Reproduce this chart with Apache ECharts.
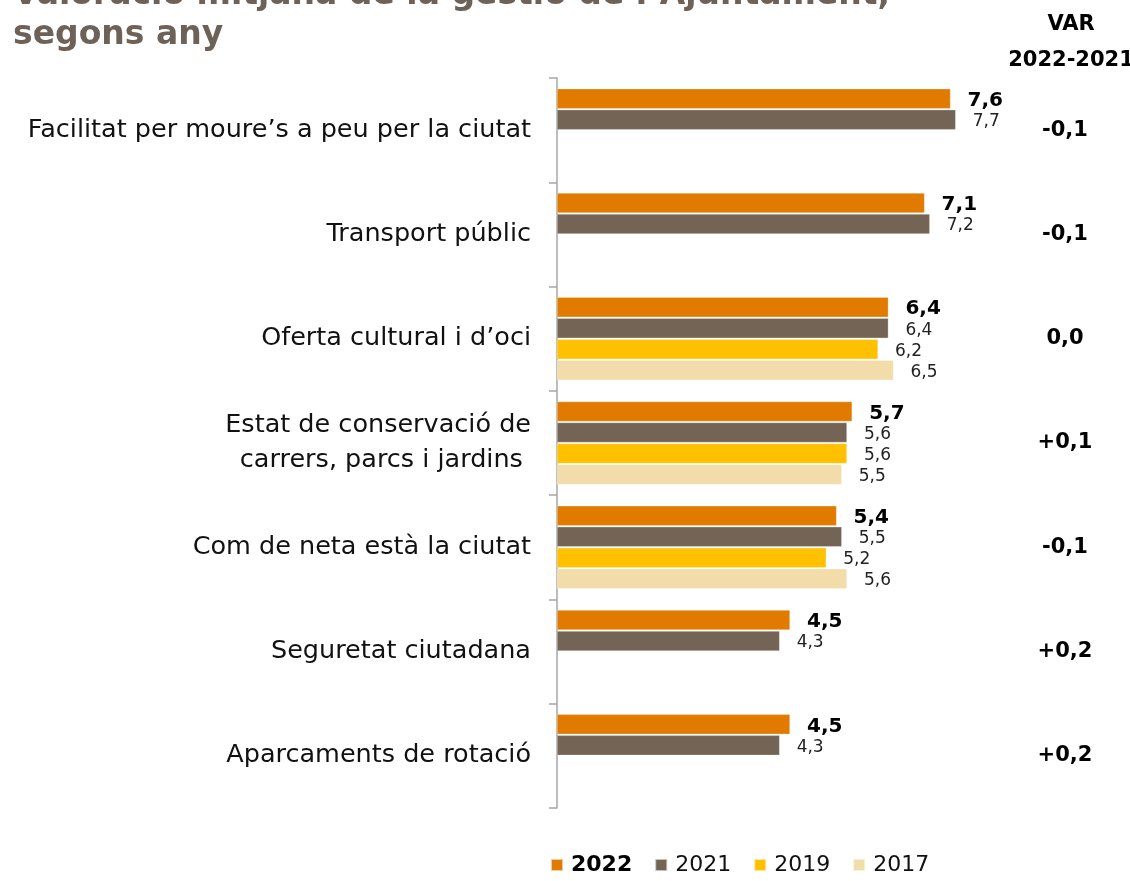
<!DOCTYPE html>
<html>
<head>
<meta charset="utf-8">
<script src="https://cdn.jsdelivr.net/npm/echarts@6/dist/echarts.min.js"></script>
<style>
  html, body { margin: 0; padding: 0; background: #fff; }
  #chart { width: 1130px; height: 881px; }
</style>
</head>
<body>
<div id="chart"></div>
<script>
// Valoració mitjana de la gestió municipal per àmbit i any
const categories = [
  'Facilitat per moure’s a peu per la ciutat',
  'Transport públic',
  'Oferta cultural i d’oci',
  'Estat de conservació de\ncarrers, parcs i jardins ',
  'Com de neta està la ciutat',
  'Seguretat ciutadana',
  'Aparcaments de rotació'
];
const years = ['2022', '2021', '2019', '2017'];
const values2022 = [7.6, 7.1, 6.4, 5.7, 5.4, 4.5, 4.5];
const values2021 = [7.7, 7.2, 6.4, 5.6, 5.5, 4.3, 4.3];
const values2019 = [null, null, 6.2, 5.6, 5.2, null, null];
const values2017 = [null, null, 6.5, 5.5, 5.6, null, null];
const varLabels = ['-0,1', '-0,1', '0,0', '+0,1', '-0,1', '+0,2', '+0,2'];

const colors = ['#E07B00', '#736455', '#FFC000', '#F2DCA9'];
const FONT = 'DejaVu Sans';

const fmt = v => v.toFixed(1).replace('.', ',');

function barSeries(name, data, color, bold) {
  return {
    name: name,
    type: 'bar',
    data: data,
    barWidth: 20,
    barGap: '5%',
    itemStyle: { color: color, borderColor: 'rgba(255,255,255,0.6)', borderWidth: 0.5 },
    label: {
      show: true,
      position: 'right',
      distance: 17,
      offset: [0, 2],
      formatter: p => (p.value == null ? '' : fmt(p.value)),
      fontFamily: FONT,
      fontSize: bold ? 20 : 17,
      fontWeight: bold ? 'bold' : 'normal',
      color: bold ? '#000' : '#222'
    },
    emphasis: { disabled: true }
  };
}

const chart = echarts.init(document.getElementById('chart'));
chart.setOption({
  animation: false,
  color: colors,
  title: [
    {
      text: 'Valoració mitjana de la gestió de l’Ajuntament,\nsegons any',
      left: 8,
      top: -30,
      textStyle: {
        fontFamily: FONT, fontSize: 33, fontWeight: 'bold',
        color: '#6E6258', lineHeight: 40
      }
    },
    {
      text: 'VAR\n2022-2021',
      left: 1066,
      textAlign: 'center',
      top: 2,
      textStyle: {
        fontFamily: FONT, fontSize: 21, fontWeight: 'bold',
        color: '#000', lineHeight: 36
      }
    }
  ],
  legend: {
    data: years,
    bottom: 0,
    left: 545,
    icon: 'rect',
    itemWidth: 12,
    itemHeight: 12,
    itemGap: 22,
    textStyle: {
      fontFamily: FONT, fontSize: 22, color: '#111',
      rich: {
        b: { fontFamily: FONT, fontSize: 22, fontWeight: 'bold', color: '#000', padding: [0, 0, 0, 3] },
        n: { fontFamily: FONT, fontSize: 22, color: '#111', padding: [0, 0, 0, 3] }
      }
    },
    formatter: name => (name === '2022' ? '{b|' + name + '}' : '{n|' + name + '}')
  },
  grid: { left: 557, right: 107, top: 78, bottom: 73, containLabel: false },
  xAxis: {
    type: 'value',
    min: 0,
    max: 9,
    show: false
  },
  yAxis: [
    {
      type: 'category',
      data: categories,
      inverse: true,
      position: 'left',
      axisLine: { show: true, lineStyle: { color: '#A6A6A6', width: 1.5 } },
      axisTick: { show: true, length: 8, lineStyle: { color: '#A6A6A6', width: 1.5 } },
      axisLabel: {
        margin: 26,
        fontFamily: FONT,
        fontSize: 25.5,
        color: '#111',
        lineHeight: 35,
        align: 'right'
      }
    },
    {
      type: 'category',
      data: varLabels,
      inverse: true,
      position: 'right',
      axisLine: { show: false },
      axisTick: { show: false },
      axisLabel: {
        margin: 42,
        align: 'center',
        fontFamily: FONT,
        fontSize: 21,
        fontWeight: 'bold',
        color: '#000'
      }
    }
  ],
  series: [
    barSeries(years[0], values2022, colors[0], true),
    barSeries(years[1], values2021, colors[1], false),
    barSeries(years[2], values2019, colors[2], false),
    barSeries(years[3], values2017, colors[3], false)
  ]
});
</script>
</body>
</html>
